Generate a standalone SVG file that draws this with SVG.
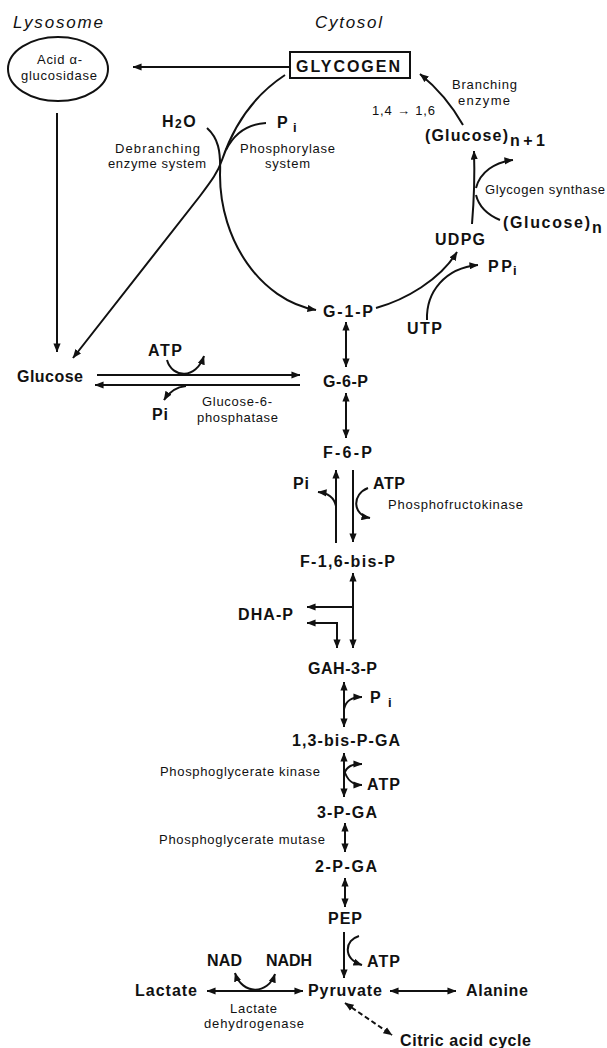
<svg xmlns="http://www.w3.org/2000/svg" width="607" height="1048" viewBox="0 0 607 1048">
<style>
text{font-family:"Liberation Sans",Arial,sans-serif;fill:#111}
.b{font-weight:bold;font-size:16px}
.s{font-size:13px}
.it{font-style:italic;font-size:17px}
.sub{font-weight:bold;font-size:13px}
.c path,.c line,.c polyline{fill:none;stroke:#111;stroke-width:2}
.shape{fill:none;stroke:#111;stroke-width:2}
.d{stroke-dasharray:5 3}
</style>
<defs>
<marker id="ah" viewBox="0 0 10 8" refX="9.5" refY="4" markerWidth="9" markerHeight="7.5" markerUnits="userSpaceOnUse" orient="auto-start-reverse">
<path d="M0,0 L10,4 L0,8 z" fill="#111"/>
</marker>
</defs>
<rect width="607" height="1048" fill="#fff"/>

<g id="compartments">
<text class="it" x="13" y="28" textLength="90">Lysosome</text>
<text class="it" x="315" y="28" textLength="67">Cytosol</text>
</g>

<g id="acid-glucosidase">
<ellipse class="shape" cx="58" cy="69" rx="50" ry="32"/>
<text class="s" x="37" y="64" textLength="45">Acid α-</text>
<text class="s" x="21" y="80" textLength="76">glucosidase</text>
</g>

<g id="glycogen">
<rect class="shape" x="290" y="52" width="120" height="26"/>
<text class="b" x="296" y="72" textLength="104">GLYCOGEN</text>
</g>

<g id="h2o"><text class="b" x="162" y="127" letter-spacing="1.5">H<tspan font-size="12" dy="1">2</tspan><tspan dy="-1">O</tspan></text></g>
<g id="pi-top"><text class="b" x="277" y="128">P</text><text class="sub" x="293" y="132">i</text></g>
<g id="debranching-label">
<text class="s" x="115" y="153" textLength="85">Debranching</text>
<text class="s" x="108" y="168" textLength="98">enzyme system</text>
</g>
<g id="phosphorylase-label">
<text class="s" x="240" y="153" textLength="95">Phosphorylase</text>
<text class="s" x="265" y="168" textLength="45">system</text>
</g>
<g id="branching-label">
<text class="s" x="372" y="115" font-size="12" textLength="63">1,4 → 1,6</text>
<text class="s" x="452" y="89" textLength="65">Branching</text>
<text class="s" x="458" y="105" textLength="52">enzyme</text>
</g>
<g id="glucose-n1"><text class="b" x="425" y="141" textLength="83">(Glucose)</text><text class="b" x="510" y="146" font-size="14" textLength="35">n+1</text></g>
<g id="glycogen-synthase-label"><text class="s" x="485" y="194" textLength="120">Glycogen synthase</text></g>
<g id="glucose-n"><text class="b" x="503" y="228" textLength="87">(Glucose)</text><text class="b" x="592" y="233" font-size="14">n</text></g>
<g id="udpg"><text class="b" x="435" y="245" textLength="50">UDPG</text></g>
<g id="ppi"><text class="b" x="488" y="272" textLength="24">PP</text><text class="sub" x="513" y="275">i</text></g>
<g id="g1p"><text class="b" x="323" y="317" textLength="50">G-1-P</text></g>
<g id="utp"><text class="b" x="407" y="334" textLength="35">UTP</text></g>

<g id="glucose"><text class="b" x="17" y="382" textLength="66">Glucose</text></g>
<g id="atp1"><text class="b" x="148" y="356" textLength="34">ATP</text></g>
<g id="pi1"><text class="b" x="152" y="420" textLength="16">Pi</text></g>
<g id="g6pase-label">
<text class="s" x="202" y="406" textLength="70">Glucose-6-</text>
<text class="s" x="197" y="422" textLength="81">phosphatase</text>
</g>
<g id="g6p"><text class="b" x="323" y="387" textLength="45">G-6-P</text></g>
<g id="f6p"><text class="b" x="323" y="458" textLength="49">F-6-P</text></g>
<g id="pi2"><text class="b" x="293" y="489" textLength="16">Pi</text></g>
<g id="atp2"><text class="b" x="373" y="489" textLength="32">ATP</text></g>
<g id="pfk-label"><text class="s" x="388" y="509" textLength="135">Phosphofructokinase</text></g>
<g id="f16bp"><text class="b" x="300" y="567" textLength="95">F-1,6-bis-P</text></g>
<g id="dhap"><text class="b" x="238" y="620" textLength="55">DHA-P</text></g>
<g id="gah3p"><text class="b" x="308" y="674" textLength="69">GAH-3-P</text></g>
<g id="pi3"><text class="b" x="370" y="703">P</text><text class="sub" x="388" y="707">i</text></g>
<g id="bpga"><text class="b" x="292" y="746" textLength="108">1,3-bis-P-GA</text></g>
<g id="pgk-label"><text class="s" x="160" y="776" textLength="160">Phosphoglycerate kinase</text></g>
<g id="atp3"><text class="b" x="367" y="790" textLength="33">ATP</text></g>
<g id="pga3"><text class="b" x="317" y="818" textLength="60">3-P-GA</text></g>
<g id="pgm-label"><text class="s" x="159" y="844" textLength="166">Phosphoglycerate mutase</text></g>
<g id="pga2"><text class="b" x="315" y="872" textLength="62">2-P-GA</text></g>
<g id="pep"><text class="b" x="328" y="924" textLength="34">PEP</text></g>
<g id="atp4"><text class="b" x="367" y="967" textLength="33">ATP</text></g>
<g id="nad"><text class="b" x="207" y="966" textLength="35">NAD</text></g>
<g id="nadh"><text class="b" x="266" y="966" textLength="46">NADH</text></g>
<g id="lactate"><text class="b" x="135" y="996" textLength="62">Lactate</text></g>
<g id="pyruvate"><text class="b" x="308" y="996" textLength="74">Pyruvate</text></g>
<g id="alanine"><text class="b" x="466" y="996" textLength="62">Alanine</text></g>
<g id="ldh-label">
<text class="s" x="230" y="1013" textLength="47">Lactate</text>
<text class="s" x="204" y="1028" textLength="100">dehydrogenase</text>
</g>
<g id="citric"><text class="b" x="400" y="1046" textLength="131">Citric acid cycle</text></g>

<g id="connectors" class="c">
<line x1="289" y1="67" x2="133" y2="67" marker-end="url(#ah)"/>
<line x1="57" y1="113" x2="57" y2="352" marker-end="url(#ah)"/>
<path d="M285,75 C250,98 232,130 222,160 C218,172 212,180 200,196 L73,358" marker-end="url(#ah)"/>
<path d="M207,128 C218,138 221,150 220,175 C220,240 260,300 316,310" marker-end="url(#ah)"/>
<path d="M266,123 C248,124 234,134 226,150"/>
<path d="M376,308 C405,300 440,280 457,252" marker-end="url(#ah)"/>
<path d="M427,320 C426,292 445,268 478,265" marker-end="url(#ah)"/>
<path d="M472,224 C474,200 475,180 474,151" marker-end="url(#ah)"/>
<path d="M500,220 C488,215 479,207 476,195"/>
<path d="M476,188 C480,172 495,162 513,160" marker-end="url(#ah)"/>
<path d="M463,125 Q446,95 420,74" marker-end="url(#ah)"/>
<line x1="346" y1="322" x2="346" y2="367" marker-start="url(#ah)" marker-end="url(#ah)"/>
<line x1="97" y1="375" x2="300" y2="375" marker-end="url(#ah)"/>
<line x1="300" y1="385" x2="95" y2="385" marker-end="url(#ah)"/>
<path d="M167,360 C172,378 196,380 204,356" marker-end="url(#ah)"/>
<path d="M186,386 C176,387 169,392 164,400" marker-end="url(#ah)"/>
<line x1="346" y1="393" x2="346" y2="438" marker-start="url(#ah)" marker-end="url(#ah)"/>
<line x1="336" y1="543" x2="336" y2="470" marker-end="url(#ah)"/>
<path d="M336,506 C334,497 328,493 318,492" marker-end="url(#ah)"/>
<line x1="353" y1="470" x2="353" y2="542" marker-end="url(#ah)"/>
<path d="M368,488 C352,494 352,515 370,518" marker-end="url(#ah)"/>
<line x1="353" y1="573" x2="353" y2="648" marker-start="url(#ah)" marker-end="url(#ah)"/>
<line x1="353" y1="607" x2="307" y2="607" marker-end="url(#ah)"/>
<polyline points="307,623 337,623 337,648" marker-start="url(#ah)" marker-end="url(#ah)"/>
<line x1="344" y1="682" x2="344" y2="727" marker-start="url(#ah)" marker-end="url(#ah)"/>
<path d="M344,709 C346,700 352,697 362,697" marker-end="url(#ah)"/>
<line x1="344" y1="753" x2="344" y2="797" marker-start="url(#ah)" marker-end="url(#ah)"/>
<path d="M344,774 C347,766 352,764 362,764" marker-end="url(#ah)"/>
<path d="M344,770 C347,780 352,785 362,785" marker-end="url(#ah)"/>
<line x1="345" y1="823" x2="345" y2="852" marker-start="url(#ah)" marker-end="url(#ah)"/>
<line x1="345" y1="878" x2="345" y2="907" marker-start="url(#ah)" marker-end="url(#ah)"/>
<line x1="344" y1="932" x2="344" y2="978" marker-end="url(#ah)"/>
<path d="M359,936 C345,940 342,958 362,965" marker-end="url(#ah)"/>
<line x1="207" y1="991" x2="303" y2="991" marker-start="url(#ah)" marker-end="url(#ah)"/>
<path d="M235,973 C242,995 268,995 275,974" marker-start="url(#ah)" marker-end="url(#ah)"/>
<line x1="390" y1="991" x2="456" y2="991" marker-start="url(#ah)" marker-end="url(#ah)"/>
<line class="d" x1="345" y1="1003" x2="392" y2="1035" marker-start="url(#ah)" marker-end="url(#ah)"/>
</g>
</svg>
